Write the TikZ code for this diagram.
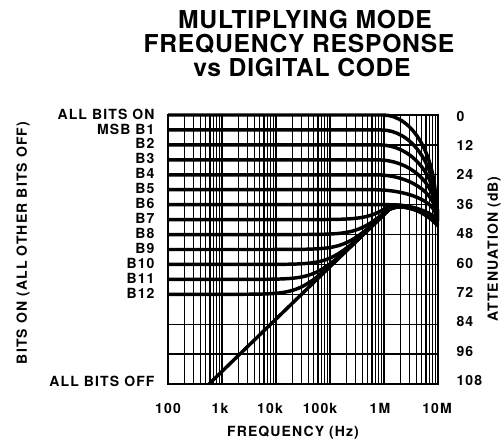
\documentclass[tikz,border=0pt]{standalone}
\usepackage{fontspec}
\setmainfont{TeX Gyre Heros}

\tikzset{every picture/.style={line width=0.75pt}}
\tikzset{
  grid minor/.style={line width=0.95pt},
  grid major/.style={line width=1.5pt},
  frame line/.style={line width=1.9pt},
  bit curve/.style={line width=2.6pt, line join=round},
  title text/.style={font=\fontsize{18.5}{22}\selectfont\bfseries\addfontfeature{LetterSpace=3}, inner sep=0pt},
  axis text/.style={font=\fontsize{10.5}{12}\selectfont\bfseries\addfontfeature{LetterSpace=8}, inner sep=0pt},
}

\begin{document}
\begin{tikzpicture}[x=0.75pt,y=0.75pt,yscale=-1,xscale=1]
\useasboundingbox (0,0) rectangle (503,445);

% Title
\node[title text] (title1) at (305,20) {MULTIPLYING MODE};
\node[title text] (title2) at (299,44) {FREQUENCY RESPONSE};
\node[title text] (title3) at (302,68) {vs DIGITAL CODE};

%Grid: minor verticals
\foreach \d in {0,...,4}
  \foreach \m in {2,...,9}
    \draw[grid minor] ({168+54*(\d+log10(\m))},115) -- ({168+54*(\d+log10(\m))},384);
%Grid: decades
\foreach \d in {1,...,4}
  \draw[grid major] ({168+54*\d},115) -- ({168+54*\d},384);
%Grid: horizontals every 12 dB
\foreach \j in {1,...,8}
  \draw[grid minor] (168,{115+29.889*\j}) -- (438,{115+29.889*\j});
%Frame
\draw[frame line] (168,115) rectangle (438,384);

%Curves: all bits on .. B5 (roll off)
\foreach \k in {0,...,5} {
  \pgfmathsetmacro{\yl}{115+14.944*\k}
  \pgfmathsetmacro{\xs}{383-2*\k}
  \pgfmathsetmacro{\ye}{207+2*\k}
  \draw[bit curve] (168,\yl) -- (\xs,\yl)
    .. controls ({\xs+0.56*(436-\xs)},\yl) and (436,{\yl+0.44*(\ye-\yl)}) .. (436,\ye) -- (438,{\ye+4});
}
%Curve: B6
\draw[bit curve] (168,204.7) -- (388,204.7) .. controls (415,204.7) and (428,212) .. (438,219);
%Curves: B7 .. B12 (feedthrough rises)
\foreach \lev/\ye in {42/220,48/221,54/222,60/223,66/224,72/225}
  \draw[bit curve] plot[domain=2:6.1, samples=90]
    ({168+54*(\x-2)},{115+2.4907*(\lev-10*log10(1+10^((\lev-107.6+21*(\x-2.778))/10)))})
    .. controls (402,203) and (424,210) .. (438,\ye);
%Curve: all bits off
\draw[bit curve] (209,384) -- (389.4,209.1) .. controls (402,203) and (424,210) .. (438,226);

% Text Node: bit labels
\foreach \k/\txt in {0/ALL BITS ON,1/MSB B1,2/B2,3/B3,4/B4,5/B5,6/B6,7/B7,8/B8,9/B9,10/B10,11/B11,12/B12}
  \node[axis text, anchor=east] (bit\k) at (155,{114+14.944*\k}) {\txt};
\node[axis text, anchor=east] (bitoff) at (155,381) {ALL BITS OFF};

% Text Node: attenuation
\foreach \j/\txt in {0/0,1/12,2/24,3/36,4/48,5/60,6/72,7/84,8/96,9/108}
  \node[axis text, anchor=west] (att\j) at (456,{116+29.4*\j}) {\txt};

% Text Node: frequency
\foreach \f/\xf in {100/168,1k/220,10k/270,100k/320,1M/380,10M/437}
  \node[axis text] (frq\f) at (\xf,408) {\f};

% Text Node: axis titles
\node[axis text, rotate=90] (ylab) at (23,243) {BITS ON (ALL OTHER BITS OFF)};
\node[axis text, rotate=90] (ylab2) at (494,249) {ATTENUATION (dB)};
\node[axis text] (xlab) at (293,433) {FREQUENCY (Hz)};

\end{tikzpicture}
\end{document}
